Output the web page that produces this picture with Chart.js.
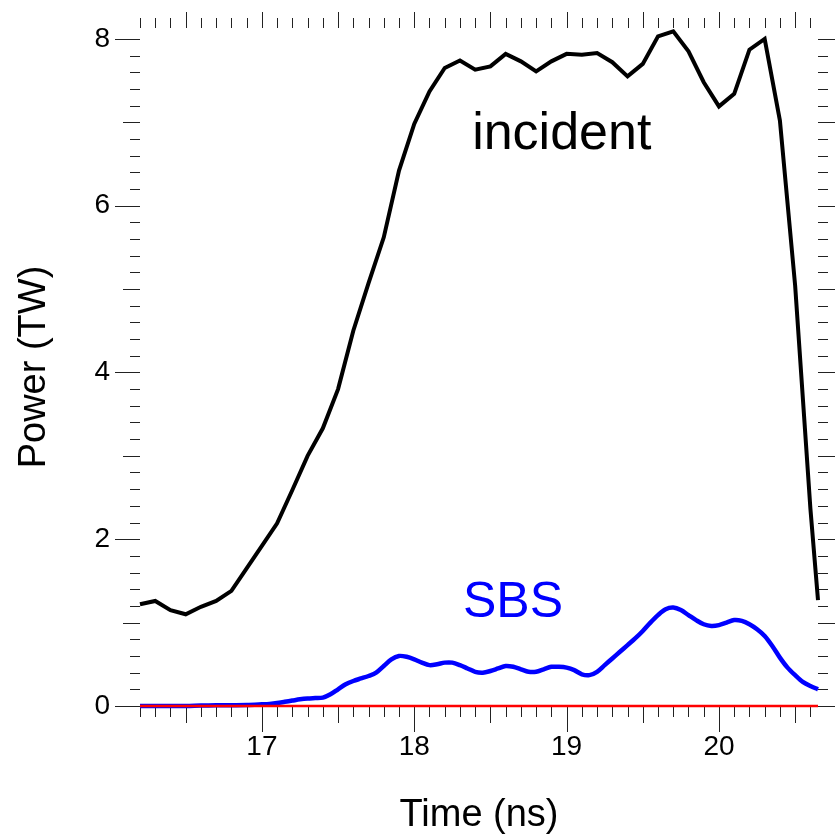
<!DOCTYPE html>
<html>
<head>
<meta charset="utf-8">
<script src="https://cdn.jsdelivr.net/npm/chart.js@4.4.1/dist/chart.umd.min.js"></script>
<style>
  html, body { margin: 0; padding: 0; background: #fff; }
  #wrap { width: 835px; height: 835px; }
</style>
</head>
<body>
<div id="wrap"><canvas id="c" width="835" height="835"></canvas></div>
<script>
/* ── data ──────────────────────────────────────────────────────── */
const incidentTime  = [16.2, 16.3, 16.4, 16.5, 16.6, 16.7, 16.8, 16.9, 17.0, 17.1,
                       17.2, 17.3, 17.4, 17.5, 17.6, 17.7, 17.8, 17.9, 18.0, 18.1,
                       18.2, 18.3, 18.4, 18.5, 18.6, 18.7, 18.8, 18.9, 19.0, 19.1,
                       19.2, 19.3, 19.4, 19.5, 19.6, 19.7, 19.8, 19.9, 20.0, 20.1,
                       20.2, 20.3, 20.4, 20.5, 20.6, 20.65];
const incidentPower = [1.22, 1.26, 1.15, 1.10, 1.19, 1.26, 1.38, 1.65, 1.92, 2.19,
                       2.59, 3.00, 3.33, 3.80, 4.50, 5.07, 5.62, 6.42, 6.98, 7.37,
                       7.65, 7.74, 7.63, 7.67, 7.82, 7.73, 7.61, 7.73, 7.82, 7.81,
                       7.83, 7.72, 7.55, 7.70, 8.03, 8.09, 7.85, 7.48, 7.19, 7.34,
                       7.87, 8.00, 7.02, 5.04, 2.37, 1.27];

const sbsTime  = [16.2, 16.3, 16.4, 16.5, 16.6, 16.7, 16.8, 16.9, 17.0, 17.05,
                  17.1, 17.15, 17.2, 17.25, 17.3, 17.35, 17.4, 17.45, 17.5, 17.55,
                  17.6, 17.65, 17.7, 17.75, 17.8, 17.85, 17.9, 17.95, 18.0, 18.05,
                  18.1, 18.15, 18.2, 18.25, 18.3, 18.35, 18.4, 18.45, 18.5, 18.55,
                  18.6, 18.65, 18.7, 18.75, 18.8, 18.85, 18.9, 18.95, 19.0, 19.05,
                  19.1, 19.15, 19.2, 19.25, 19.3, 19.35, 19.4, 19.45, 19.5, 19.55,
                  19.6, 19.65, 19.7, 19.75, 19.8, 19.85, 19.9, 19.95, 20.0, 20.05,
                  20.1, 20.15, 20.2, 20.25, 20.3, 20.35, 20.4, 20.45, 20.5, 20.55,
                  20.6, 20.65];
const sbsPower = [0.00, 0.00, 0.00, 0.00, 0.005, 0.008, 0.01, 0.012, 0.02, 0.025,
                  0.035, 0.05, 0.065, 0.08, 0.09, 0.095, 0.10, 0.14, 0.20, 0.26,
                  0.30, 0.33, 0.36, 0.40, 0.48, 0.56, 0.60, 0.59, 0.56, 0.52,
                  0.49, 0.50, 0.52, 0.52, 0.49, 0.45, 0.41, 0.40, 0.42, 0.45,
                  0.48, 0.47, 0.44, 0.41, 0.41, 0.44, 0.47, 0.47, 0.46, 0.43,
                  0.38, 0.37, 0.41, 0.49, 0.57, 0.65, 0.73, 0.81, 0.90, 1.00,
                  1.09, 1.16, 1.18, 1.15, 1.09, 1.03, 0.98, 0.96, 0.97, 1.00,
                  1.03, 1.02, 0.98, 0.92, 0.84, 0.72, 0.58, 0.46, 0.37, 0.29,
                  0.24, 0.20];

const baseTime  = [16.2, 20.65];
const basePower = [0, 0];

const xTickValues = [17, 18, 19, 20];
const yTickValues = [0, 2, 4, 6, 8];

const FONT = "'Liberation Sans', Arial, Helvetica, sans-serif";

const toXY = (ts, vs) => ts.map((t, i) => ({ x: t, y: vs[i] }));

/* ── frame ticks: all four sides, minor/mid/major ─────────────── */
const frameTicks = {
  id: 'frameTicks',
  beforeDatasetsDraw(chart) {
    const { ctx, chartArea: a, scales: { x, y } } = chart;
    ctx.save();
    ctx.strokeStyle = '#222';
    ctx.lineWidth = 1;
    const seg = (x1, y1, x2, y2) => { ctx.beginPath(); ctx.moveTo(x1, y1); ctx.lineTo(x2, y2); ctx.stroke(); };
    for (let i = Math.ceil(x.min * 10 - 1e-6); i <= Math.floor(x.max * 10 + 1e-6); i++) {
      const px = Math.round(x.getPixelForValue(i / 10)) + 0.5;
      const bl = i % 10 === 0 ? 26 : (i % 5 === 0 ? 17 : 11);
      seg(px, a.bottom, px, a.bottom + bl);
      const tl = i % 5 === 0 ? 16 : 10;
      seg(px, a.top, px, a.top - tl);
    }
    for (let i = 0; i <= Math.floor(y.max * 5 + 1e-6); i++) {
      const py = Math.round(y.getPixelForValue(i / 5)) + 0.5;
      const ll = i % 10 === 0 ? 25 : (i % 5 === 0 ? 17 : 10);
      seg(a.left, py, a.left - ll, py);
      const rl = i % 5 === 0 ? 17 : 10;
      seg(a.right, py, a.right + rl, py);
    }
    ctx.restore();
  },
};

/* ── curve labels placed in data space ─────────────────────────── */
const curveLabels = {
  id: 'curveLabels',
  afterDatasetsDraw(chart) {
    const { ctx, scales: { x, y } } = chart;
    ctx.save();
    ctx.textAlign = 'left';
    ctx.textBaseline = 'alphabetic';
    ctx.font = `52px ${FONT}`;
    ctx.fillStyle = '#000';
    ctx.fillText('incident', x.getPixelForValue(18.38), y.getPixelForValue(6.68));
    ctx.font = `50px ${FONT}`;
    ctx.fillStyle = '#0000ff';
    ctx.fillText('SBS', x.getPixelForValue(18.32), y.getPixelForValue(1.07));
    ctx.restore();
  },
};

new Chart(document.getElementById('c').getContext('2d'), {
  type: 'line',
  data: {
    datasets: [
      // first dataset is painted last, so the red baseline sits on top
      {
        label: 'baseline',
        data: toXY(baseTime, basePower),
        borderColor: '#ff0000',
        borderWidth: 2.5,
        pointRadius: 0,
        clip: false,
      },
      {
        label: 'incident',
        data: toXY(incidentTime, incidentPower),
        borderColor: '#000',
        borderWidth: 4,
        pointRadius: 0,
        tension: 0,
        clip: false,
      },
      {
        label: 'SBS',
        data: toXY(sbsTime, sbsPower),
        borderColor: '#0000ff',
        borderWidth: 4.5,
        pointRadius: 0,
        tension: 0.3,
        clip: false,
      },
    ],
  },
  options: {
    responsive: false,
    animation: false,
    events: [],
    layout: { padding: { top: 28, right: 17, left: 0, bottom: 0 } },
    plugins: { legend: { display: false }, tooltip: { enabled: false } },
    scales: {
      x: {
        type: 'linear',
        position: 'bottom',
        min: 16.2,
        max: 20.65,
        afterBuildTicks: s => { s.ticks = xTickValues.map(v => ({ value: v })); },
        afterFit: s => { s.height = 129; s.paddingLeft = 0; s.paddingRight = 0; },
        grid: { display: false, drawTicks: false },
        border: { display: false },
        ticks: { color: '#000', font: { family: FONT, size: 28 }, padding: 24, maxRotation: 0 },
        title: {
          display: true, text: 'Time (ns)', color: '#000',
          font: { family: FONT, size: 38, lineHeight: 1.0 }, padding: { top: 0, bottom: 0 },
        },
      },
      y: {
        type: 'linear',
        min: 0,
        max: 8.13,
        afterBuildTicks: s => { s.ticks = yTickValues.map(v => ({ value: v })); },
        afterFit: s => { s.width = 140; s.paddingTop = 0; s.paddingBottom = 0; },
        grid: { display: false, drawTicks: false },
        border: { display: false },
        ticks: { color: '#000', font: { family: FONT, size: 28 }, padding: 30 },
        title: {
          display: true, text: 'Power (TW)', color: '#000',
          font: { family: FONT, size: 38, lineHeight: 1.2 }, padding: { top: 12, bottom: 0 },
        },
      },
    },
  },
  plugins: [frameTicks, curveLabels],
});
</script>
</body>
</html>
